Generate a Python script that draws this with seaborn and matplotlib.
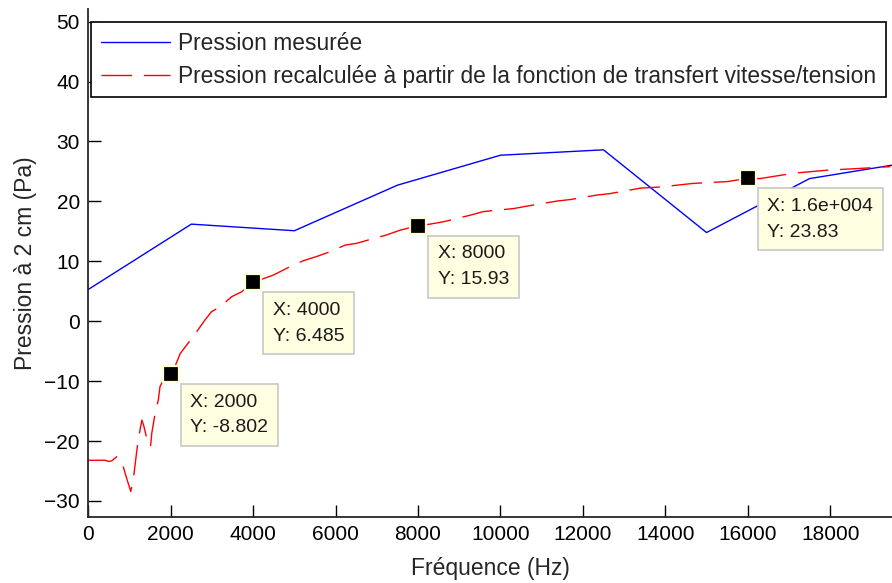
import matplotlib
matplotlib.use("Agg")
import matplotlib.pyplot as plt
import seaborn as sns

# Measured pressure at 2 cm (Pa)
mesure_freq = [0, 2500, 5000, 7500, 10000, 12500, 15000, 17500, 20000]
mesure_pression = [5.3, 16.2, 15.1, 22.7, 27.7, 28.6, 14.8, 23.8, 26.6]

# Pressure recomputed from the velocity/voltage transfer function (Pa)
recalc_freq = [0, 400, 490, 570, 690, 810, 930, 1030, 1090, 1170, 1210, 1300, 1340,
               1460, 1510, 1540, 1620, 1700, 1740, 1820, 2000, 2100, 2230, 2350,
               2630, 2830, 2990, 3200, 3480, 3720, 4000, 4490, 4980, 5220, 5540,
               5870, 6230, 6510, 6920, 7240, 7570, 8000, 8290, 8620, 9270, 9590,
               10320, 10640, 11370, 11690, 12340, 12660, 13150, 13390, 13880,
               14680, 15500, 16000, 16300, 17110, 17920, 18730, 19460]
recalc_pression = [-23.2, -23.2, -23.4, -23.3, -22.6, -23.4, -26.2, -28.4, -26.5,
                   -22.0, -19.8, -16.5, -17.3, -20.7, -20.9, -18.7, -15.4, -13.1,
                   -10.9, -9.8, -8.802, -7.6, -5.4, -4.3, -1.75, 0.2, 1.6, 2.4, 4.1,
                   4.9, 6.485, 7.7, 9.4, 10.1, 10.8, 11.6, 12.7, 13.0, 13.8, 14.4,
                   15.2, 15.93, 16.2, 16.6, 17.7, 18.3, 18.8, 19.2, 20.05, 20.3,
                   21.05, 21.3, 21.9, 22.2, 22.4, 23.0, 23.3, 23.83, 23.8, 24.7,
                   25.2, 25.5, 25.8]

# Data tips
tip_x = [2000, 4000, 8000, 16000]
tip_y = [-8.802, 6.485, 15.93, 23.83]
tip_xlabels = ["2000", "4000", "8000", "1.6e+004"]
tip_ylabels = ["-8.802", "6.485", "15.93", "23.83"]

x_ticks = list(range(0, 18001, 2000))
y_ticks = list(range(-30, 51, 10))

sns.set_style("ticks")
plt.rcParams["font.family"] = ["Liberation Sans", "DejaVu Sans"]

W, H = 892, 583
fig = plt.figure(figsize=(W / 100, H / 100), dpi=100)
ax = fig.add_axes([88.3 / W, (H - 517) / H, 1 - 88.3 / W, (517 - 9) / H])

sns.lineplot(x=mesure_freq, y=mesure_pression, ax=ax, color="#0000FF", lw=1.0,
             sort=False, estimator=None, label="Pression mesurée")
sns.lineplot(x=recalc_freq, y=recalc_pression, ax=ax, color="#FF0000", lw=1.0,
             sort=False, estimator=None,
             label="Pression recalculée à partir de la fonction de transfert vitesse/tension")
ax.lines[1].set_dashes((22, 8.5))

ax.set_xlim(0, 19500)
ax.set_ylim(-32.67, 52.1)
ax.set_xticks(x_ticks)
ax.set_yticks(y_ticks)
ax.tick_params(direction="in", length=9, width=1.0, labelsize=15, colors="#000000",
               pad=6)
for side in ("top", "right"):
    ax.spines[side].set_visible(False)
for side in ("left", "bottom"):
    ax.spines[side].set_color("#262626")
    ax.spines[side].set_linewidth(1.3)

ax.set_xlabel("Fréquence (Hz)", fontsize=16.5, labelpad=9)
ax.set_ylabel("Pression à 2 cm (Pa)", fontsize=16.5, labelpad=5)

# data tip markers and boxes
ax.plot(tip_x, tip_y, linestyle="none", marker="s", markersize=11,
        markerfacecolor="black", markeredgecolor="#FFFFD8", markeredgewidth=1.6,
        zorder=5)
for x, y, xl, yl in zip(tip_x, tip_y, tip_xlabels, tip_ylabels):
    ax.annotate(f"X: {xl}\nY: {yl}", xy=(x, y), xytext=(14.2, -14.2),
                textcoords="offset points", ha="left", va="top", fontsize=14,
                linespacing=1.65, color="#1a1a1a", zorder=6,
                bbox=dict(boxstyle="square,pad=0.5", fc="#FFFFE1", ec="#C8C8C8",
                          lw=1.2))

leg = ax.legend(loc="upper left", bbox_to_anchor=(91 / W, 1 - 22 / H),
                bbox_transform=fig.transFigure, fontsize=16.4, frameon=True,
                fancybox=False, edgecolor="#000000", framealpha=1,
                borderaxespad=0, handlelength=3.05, handletextpad=0.35,
                borderpad=0.42, labelspacing=0.45)
leg.get_frame().set_linewidth(1.2)
for h in leg.get_lines():
    h.set_linewidth(1.0)

fig.savefig("out.png", dpi=100)
